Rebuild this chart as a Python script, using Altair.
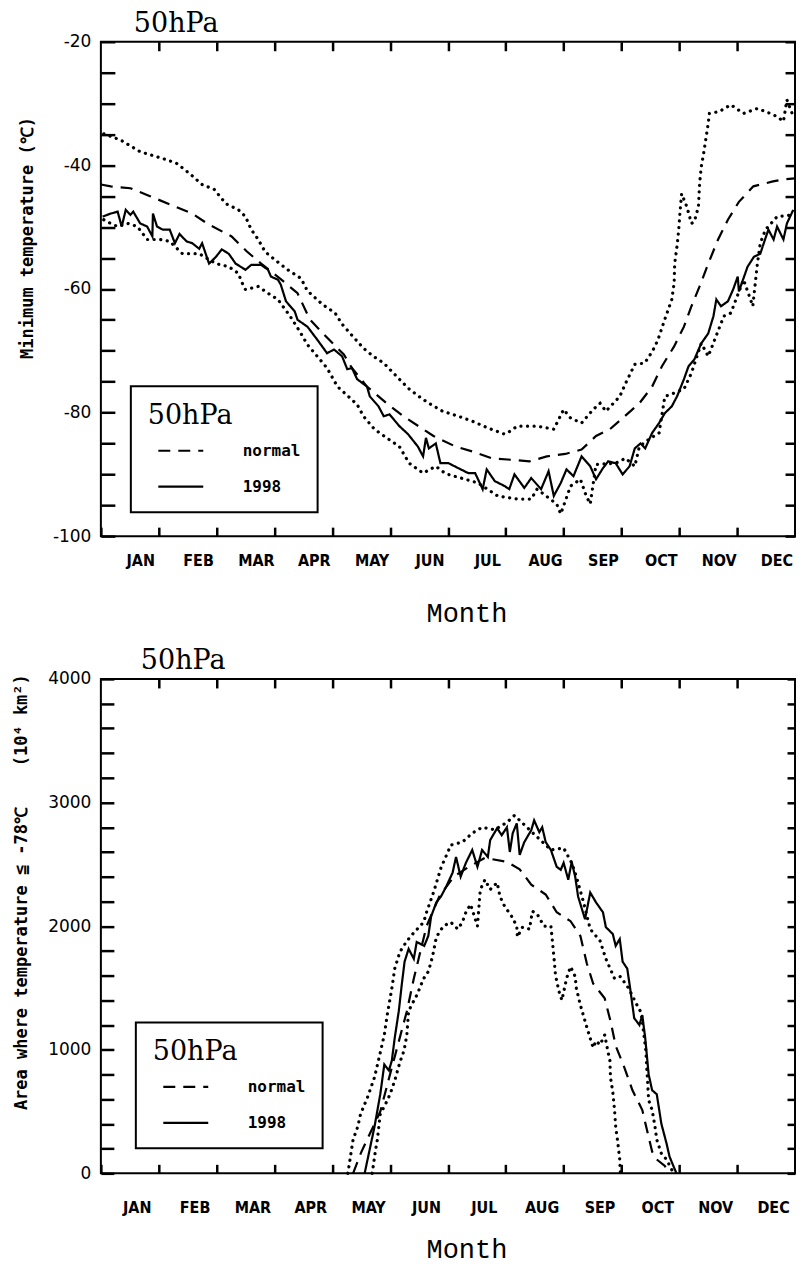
import json
import altair as alt
import pandas as pd

MONTHS = ["JAN", "FEB", "MAR", "APR", "MAY", "JUN", "JUL", "AUG", "SEP", "OCT", "NOV", "DEC"]
MONTH_STARTS = list(range(12))
MONTH_EDGES = list(range(1, 12))

TEMP_MAJOR = [-100, -80, -60, -40, -20]
TEMP_MINOR = [-95, -90, -85, -75, -70, -65, -55, -50, -45, -35, -30, -25]
AREA_MAJOR = [0, 1000, 2000, 3000, 4000]
AREA_MINOR = [200, 400, 600, 800, 1200, 1400, 1600, 1800, 2200, 2400, 2600, 2800,
              3200, 3400, 3600, 3800]

# ---- top panel: minimum temperature (month position, deg C) ----
top_normal = [(0.0, -43.1), (0.17, -43.4), (0.51, -43.7), (0.85, -45.0), (1.19, -46.3),
              (1.58, -47.8), (1.87, -49.6), (2.26, -51.5), (2.52, -53.9), (2.77, -55.9),
              (3.12, -58.5), (3.40, -60.7), (3.61, -64.9), (3.86, -67.4), (4.20, -70.6),
              (4.34, -72.8), (4.60, -75.8), (4.94, -78.5), (5.23, -80.6), (5.75, -83.8),
              (6.13, -85.5), (6.42, -86.3), (6.76, -87.4), (7.03, -87.6), (7.41, -87.9),
              (7.71, -87.1), (8.03, -86.7), (8.31, -86.0), (8.56, -83.8), (8.80, -82.7),
              (9.02, -80.9), (9.31, -78.5), (9.53, -75.8), (9.70, -72.5), (9.91, -69.3),
              (10.08, -66.1), (10.21, -62.8), (10.35, -59.6), (10.50, -55.9), (10.67, -52.0),
              (10.84, -48.8), (11.03, -45.9), (11.28, -43.4), (11.62, -42.6), (11.79, -42.3),
              (12.0, -42.1)]

top_1998 = [(0.03, -48.3), (0.17, -47.8), (0.29, -47.5), (0.36, -49.9), (0.43, -47.2),
            (0.51, -48.0), (0.56, -47.5), (0.68, -49.4), (0.80, -49.9), (0.89, -51.5),
            (0.90, -47.8), (0.97, -49.9), (1.07, -50.4), (1.19, -50.4), (1.28, -52.6),
            (1.36, -51.1), (1.48, -52.3), (1.58, -52.6), (1.70, -53.5), (1.75, -52.6),
            (1.87, -55.9), (1.99, -54.8), (2.09, -53.6), (2.21, -54.3), (2.33, -55.9),
            (2.50, -56.9), (2.60, -56.1), (2.77, -56.1), (2.89, -56.9), (2.94, -58.0),
            (3.06, -58.5), (3.11, -59.3), (3.20, -62.0), (3.35, -63.6), (3.40, -65.0),
            (3.57, -66.1), (3.74, -68.2), (3.91, -70.4), (4.03, -69.8), (4.17, -70.9),
            (4.26, -73.0), (4.34, -72.8), (4.43, -74.6), (4.60, -75.8), (4.65, -77.4),
            (4.80, -79.0), (4.89, -80.6), (4.99, -80.3), (5.16, -82.2), (5.31, -83.5),
            (5.48, -85.5), (5.57, -87.1), (5.62, -84.1), (5.67, -85.8), (5.79, -85.0),
            (5.87, -88.2), (6.01, -88.2), (6.18, -89.0), (6.35, -89.8), (6.47, -89.8),
            (6.60, -92.4), (6.67, -89.2), (6.81, -91.1), (6.98, -91.9), (7.06, -92.4),
            (7.15, -90.0), (7.32, -92.2), (7.44, -90.6), (7.61, -92.4), (7.74, -89.5),
            (7.83, -93.5), (7.95, -91.4), (8.05, -89.2), (8.17, -90.3), (8.31, -87.1),
            (8.46, -88.7), (8.56, -90.8), (8.68, -89.0), (8.77, -87.9), (8.90, -88.2),
            (9.02, -90.0), (9.14, -88.7), (9.23, -85.8), (9.33, -85.0), (9.41, -85.8),
            (9.53, -83.3), (9.65, -81.7), (9.75, -80.1), (9.87, -79.0), (9.96, -77.4),
            (10.08, -74.6), (10.16, -72.5), (10.26, -71.4), (10.38, -68.8), (10.50, -67.2),
            (10.59, -64.4), (10.64, -61.7), (10.72, -62.8), (10.84, -62.0), (10.93, -60.1),
            (11.01, -58.0), (11.03, -60.4), (11.18, -56.4), (11.29, -54.8), (11.40, -54.3),
            (11.46, -52.6), (11.54, -50.4), (11.63, -52.0), (11.69, -49.9), (11.80, -52.0),
            (11.86, -49.4), (11.97, -47.2)]

top_upper = [(0.05, -34.9), (0.34, -35.9), (0.68, -37.8), (1.14, -39.1), (1.31, -39.7),
             (1.53, -41.3), (1.75, -43.1), (1.96, -43.9), (2.16, -46.2), (2.38, -47.2),
             (2.50, -48.3), (2.60, -50.4), (2.72, -52.0), (2.84, -54.0), (3.01, -55.3),
             (3.23, -56.9), (3.46, -58.3), (3.57, -60.3), (3.83, -62.5), (4.05, -63.9),
             (4.17, -65.7), (4.31, -67.2), (4.54, -69.6), (4.71, -70.9), (4.89, -72.0),
             (5.16, -74.6), (5.33, -76.2), (5.50, -77.4), (5.67, -78.5), (5.91, -79.8),
             (6.18, -80.6), (6.42, -81.4), (6.69, -82.5), (6.98, -83.5), (7.03, -83.3),
             (7.20, -82.2), (7.54, -82.2), (7.83, -82.7), (8.00, -79.5), (8.12, -80.9),
             (8.31, -81.7), (8.51, -79.5), (8.63, -78.5), (8.73, -79.8), (8.97, -77.4),
             (9.07, -75.3), (9.23, -72.2), (9.40, -72.0), (9.48, -70.9), (9.58, -69.3),
             (9.65, -67.7), (9.75, -64.9), (9.87, -61.7), (9.91, -59.1), (9.92, -55.9),
             (9.96, -53.1), (9.99, -50.4), (10.01, -47.8), (10.04, -44.6), (10.13, -46.7),
             (10.21, -49.4), (10.26, -49.1), (10.33, -46.7), (10.35, -43.0), (10.38, -40.2),
             (10.42, -38.1), (10.50, -33.2), (10.52, -31.6), (10.69, -31.3), (10.89, -30.2),
             (11.11, -31.6), (11.35, -30.8), (11.57, -31.6), (11.69, -32.1), (11.80, -32.9),
             (11.86, -29.4), (11.97, -32.1)]

top_lower = [(0.05, -48.8), (0.17, -49.4), (0.29, -49.9), (0.46, -49.4), (0.63, -49.9),
             (0.80, -52.0), (1.02, -52.0), (1.19, -52.3), (1.41, -54.3), (1.70, -54.3),
             (1.99, -55.9), (2.21, -56.4), (2.38, -57.5), (2.43, -58.8), (2.50, -60.1),
             (2.72, -59.6), (2.89, -60.7), (3.06, -61.7), (3.27, -64.4), (3.44, -66.9),
             (3.57, -69.0), (3.74, -70.9), (3.91, -72.8), (4.09, -75.8), (4.22, -76.9),
             (4.43, -78.7), (4.54, -80.6), (4.73, -82.7), (4.94, -84.1), (5.16, -85.5),
             (5.33, -88.2), (5.57, -89.8), (5.79, -88.7), (5.96, -89.9), (6.30, -90.8),
             (6.52, -91.4), (6.86, -93.5), (7.20, -94.0), (7.44, -94.0), (7.54, -92.4),
             (7.88, -94.8), (7.95, -96.4), (8.12, -91.9), (8.29, -90.8), (8.39, -93.5),
             (8.46, -94.8), (8.56, -88.4), (8.90, -88.2), (9.07, -87.4), (9.23, -88.7),
             (9.31, -85.5), (9.48, -84.3), (9.65, -83.3), (9.75, -77.4), (9.87, -77.0),
             (10.08, -76.2), (10.21, -73.6), (10.38, -68.8), (10.50, -70.9), (10.77, -64.4),
             (10.89, -63.9), (11.11, -58.5), (11.23, -61.7), (11.27, -62.8), (11.35, -55.9),
             (11.40, -52.6), (11.49, -50.4), (11.69, -48.3), (11.97, -48.0)]

# ---- bottom panel: area where T <= -78 C (month position, 10^4 km^2) ----
bot_normal = [(4.36, 0), (4.50, 170), (4.65, 320), (4.83, 500), (5.03, 856), (5.29, 1312),
              (5.41, 1576), (5.63, 2000), (5.85, 2240), (6.10, 2400), (6.36, 2480),
              (6.64, 2552), (7.02, 2520), (7.24, 2460), (7.44, 2336), (7.69, 2256),
              (7.88, 2112), (8.12, 2040), (8.29, 1920), (8.40, 1700), (8.51, 1536),
              (8.71, 1416), (8.81, 1232), (8.90, 1032), (9.05, 856), (9.19, 672),
              (9.36, 512), (9.44, 352), (9.53, 176), (9.61, 112), (9.75, 60), (9.80, 0)]

bot_1998 = [(4.56, 0), (4.73, 376), (4.83, 640), (4.90, 880), (4.98, 832), (5.03, 912),
            (5.08, 1096), (5.15, 1312), (5.20, 1520), (5.25, 1712), (5.32, 1816),
            (5.41, 1736), (5.46, 1872), (5.59, 1840), (5.66, 1920), (5.71, 2080),
            (5.80, 2192), (5.88, 2240), (5.97, 2320), (6.08, 2432), (6.14, 2560),
            (6.22, 2400), (6.31, 2512), (6.42, 2616), (6.51, 2480), (6.59, 2616),
            (6.69, 2560), (6.73, 2696), (6.85, 2792), (6.93, 2736), (7.02, 2800),
            (7.07, 2600), (7.12, 2752), (7.19, 2832), (7.24, 2576), (7.32, 2680),
            (7.44, 2776), (7.49, 2856), (7.58, 2760), (7.63, 2800), (7.69, 2680),
            (7.78, 2616), (7.88, 2480), (7.95, 2456), (8.00, 2512), (8.08, 2376),
            (8.14, 2520), (8.20, 2400), (8.25, 2240), (8.37, 2056), (8.46, 2272),
            (8.56, 2192), (8.68, 2112), (8.73, 1992), (8.85, 1936), (8.90, 1840),
            (8.97, 1896), (9.02, 1712), (9.10, 1656), (9.15, 1496), (9.22, 1256),
            (9.31, 1200), (9.36, 1280), (9.41, 1096), (9.47, 800), (9.53, 672),
            (9.61, 640), (9.69, 400), (9.78, 240), (9.83, 136), (9.95, 0)]

bot_upper = [(4.27, 0), (4.36, 272), (4.44, 376), (4.49, 480), (4.61, 616), (4.73, 776),
             (4.81, 936), (4.90, 1120), (4.95, 1280), (5.03, 1496), (5.08, 1656),
             (5.17, 1792), (5.29, 1880), (5.42, 1952), (5.58, 2032), (5.63, 2112),
             (5.75, 2272), (5.88, 2472), (6.05, 2656), (6.25, 2680), (6.42, 2752),
             (6.59, 2800), (6.81, 2780), (7.02, 2840), (7.15, 2896), (7.41, 2780),
             (7.78, 2616), (8.00, 2632), (8.14, 2512), (8.22, 2400), (8.34, 2200),
             (8.46, 1976), (8.63, 1880), (8.73, 1736), (8.88, 1576), (8.98, 1592),
             (9.12, 1500), (9.27, 1360), (9.34, 1300), (9.42, 1000), (9.47, 592),
             (9.53, 512), (9.58, 376), (9.61, 272), (9.69, 160), (9.78, 112), (9.90, 0)]

bot_lower = [(4.69, 0), (4.75, 192), (4.78, 272), (4.83, 480), (4.92, 560), (5.00, 640),
             (5.08, 750), (5.17, 900), (5.24, 992), (5.29, 1120), (5.32, 1312), (5.37, 1360),
             (5.46, 1440), (5.51, 1496), (5.58, 1576), (5.66, 1632), (5.71, 1712),
             (5.75, 1792), (5.80, 1912), (5.92, 2000), (6.05, 2032), (6.17, 1976),
             (6.25, 2032), (6.31, 2112), (6.39, 2176), (6.51, 2000), (6.56, 2296),
             (6.64, 2376), (6.73, 2296), (6.85, 2352), (6.90, 2240), (6.98, 2160),
             (7.10, 2080), (7.19, 2000), (7.20, 1912), (7.29, 1992), (7.41, 1976),
             (7.46, 2120), (7.54, 2100), (7.66, 2000), (7.78, 2000), (7.83, 1760),
             (7.86, 1600), (7.92, 1472), (7.97, 1400), (8.05, 1576), (8.12, 1672),
             (8.20, 1592), (8.22, 1496), (8.29, 1360), (8.37, 1232), (8.42, 1152),
             (8.51, 1016), (8.56, 1072), (8.63, 1040), (8.71, 1120), (8.76, 1000),
             (8.80, 912), (8.81, 776), (8.85, 656), (8.88, 512), (8.90, 376), (8.93, 272),
             (8.97, 112), (8.98, 0)]

W = 695
LABEL_FONT = "DejaVu Sans Condensed, DejaVu Sans, sans-serif"


def frame(points, name):
    return pd.DataFrame(points, columns=["m", "v"]).assign(series=name)


def panel(upper, lower, normal, y98, dom, major, minor, ytitle, H,
          title_dx, legend_xy, label_shift, ltick, rtick,
          ytitle_x, ytitle_y, ytitle_size, month_y, label_gap):
    xs = alt.Scale(domain=[0, 12], nice=False, zero=False)
    ys = alt.Scale(domain=dom, nice=False, zero=False)
    all_y = sorted(major + minor)
    tick_style = dict(ticks=True, tickWidth=2.5, tickColor="black", domain=False, grid=False)
    etick = 9

    # bottom axis: month names, inward ticks at month boundaries
    x_lab = alt.Axis(orient="bottom", values=MONTH_STARTS,
                     labelExpr=json.dumps(MONTHS) + "[datum.value]",
                     labelOffset=label_shift * W / 12.0,
                     tickSize={"expr": "-%d" % etick}, labelPadding=label_gap + etick,
                     labelFlush=False, labelOverlap=False,
                     labelFont=LABEL_FONT, labelFontSize=16,
                     labelFontWeight="bold", labelColor="black",
                     title="Month", titleFont="Liberation Mono", titleFontSize=27,
                     titleFontWeight="normal", titleColor="black",
                     titleX=366, titleY=month_y, titleBaseline="middle", **tick_style)
    # left axis: inward ticks, labels only at major values
    y_lab = alt.Axis(orient="left", values=all_y,
                     labelExpr="indexof(" + json.dumps(major) + ", datum.value) >= 0 ? '' + datum.value : ''",
                     tickSize={"expr": "-%d" % ltick}, labelPadding=10 + ltick,
                     labelFlush=False, labelOverlap=False,
                     labelFont="DejaVu Sans", labelFontSize=17, labelColor="black",
                     title=ytitle, titleFont="DejaVu Sans Mono", titleFontSize=ytitle_size,
                     titleFontWeight="bold", titleColor="black",
                     titleX=ytitle_x, titleY=ytitle_y, titleBaseline="middle",
                     titleAlign="center", **tick_style)
    # top and right axes: inward ticks only
    x_top = alt.Axis(orient="top", values=MONTH_EDGES, labels=False, title=None,
                     tickSize={"expr": "-%d" % etick}, **tick_style)
    y_right = alt.Axis(orient="right", values=all_y, labels=False, title=None,
                       tickSize={"expr": "-%d" % rtick}, **tick_style)

    guides_df = pd.concat([frame(upper, "upper"), frame(lower, "lower")], ignore_index=True)
    dots = alt.Chart(guides_df).mark_line(
        color="black", strokeWidth=3.2, strokeDash=[0.1, 6.5], strokeCap="round").encode(
        x=alt.X("m:Q", scale=xs, axis=x_top),
        y=alt.Y("v:Q", scale=ys, axis=y_right),
        detail="series:N")

    legend = alt.Legend(title="50hPa", orient="none",
                        legendX=legend_xy[0], legendY=legend_xy[1],
                        titleFont="DejaVu Serif", titleFontSize=27,
                        titleFontWeight="normal", titleColor="black", titlePadding=10,
                        labelFont="DejaVu Sans Mono", labelFontSize=16,
                        labelFontWeight="bold", labelColor="black", labelOffset=74,
                        symbolType="M0,0H5", symbolSize=324, symbolStrokeWidth=2.2,
                        symbolStrokeColor="black",
                        padding=17, rowPadding=17,
                        strokeColor="black", fillColor="white")

    main = alt.Chart(pd.concat([frame(normal, "normal"), frame(y98, "1998")])).mark_line(
        color="black", strokeWidth=2.2).encode(
        x=alt.X("m:Q", scale=xs, axis=x_lab),
        y=alt.Y("v:Q", scale=ys, axis=y_lab),
        strokeDash=alt.StrokeDash("series:N",
                                  scale=alt.Scale(domain=["normal", "1998"],
                                                  range=[[12, 8], [1, 0]]),
                                  legend=legend))

    return alt.layer(main, dots).resolve_axis(x="independent", y="independent").properties(
        width=W, height=H,
        title=alt.TitleParams("50hPa", anchor="start", frame="group", dx=title_dx,
                              font="DejaVu Serif", fontSize=27, fontWeight="normal",
                              color="black", offset=-5))


top = panel(top_upper, top_lower, top_normal, top_1998, [-100, -20], TEMP_MAJOR, TEMP_MINOR,
            "Minimum temperature (\u2103)", 495, 33, (30, 345), 0.68, 14, 10,
            -73, 196, 17, 77, 16)
bottom = panel(bot_upper, bot_lower, bot_normal, bot_1998, [0, 4000], AREA_MAJOR, AREA_MINOR,
               "Area where temperature \u2266 -78\u2103\u00a0\u00a0\u00a0\u00a0(10\u2074 km\u00b2)",
               495, 40, (35, 344), 0.62, 13, 8, -79, 213, 17, 76, 26)

chart = alt.vconcat(top, bottom, spacing=19).resolve_scale(
    strokeDash="independent").resolve_legend(strokeDash="independent").properties(
    padding={"left": 3, "top": 0, "right": 0, "bottom": 6}
).configure_view(stroke="black", strokeWidth=2).configure_legend(strokeWidth=2)

chart.save("out.html", embed_options={"renderer": "svg", "actions": False})
